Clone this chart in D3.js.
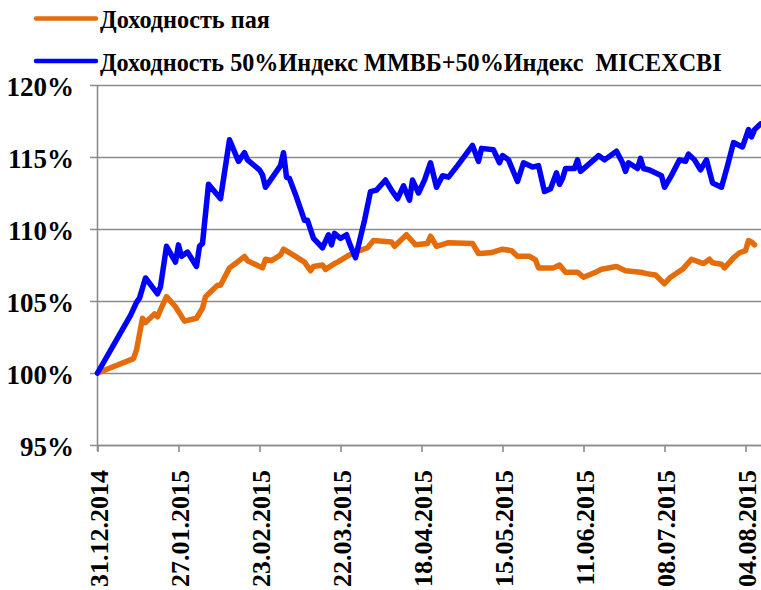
<!DOCTYPE html>
<html>
<head>
<meta charset="utf-8">
<script src="https://cdn.jsdelivr.net/npm/d3@7"></script>
<style>
  body { margin: 0; background: #fff; }
  text { font-family: "Liberation Serif", "Times New Roman", serif; font-weight: bold; fill: #000; }
</style>
</head>
<body>
<script>
// series names
const seriesNames = ["Доходность пая", "Доходность 50%Индекс ММВБ+50%Индекс  MICEXCBI"];

// orange: fund share return, %
const fundDates = ["2014-12-31","2015-01-12","2015-01-13","2015-01-15","2015-01-16","2015-01-19","2015-01-20","2015-01-21","2015-01-23","2015-01-26","2015-01-29","2015-02-02","2015-02-04","2015-02-05","2015-02-09","2015-02-10","2015-02-13","2015-02-15","2015-02-18","2015-02-19","2015-02-24","2015-02-25","2015-02-27","2015-03-02","2015-03-03","2015-03-07","2015-03-10","2015-03-12","2015-03-13","2015-03-16","2015-03-17","2015-03-20","2015-03-21","2015-03-25","2015-03-27","2015-03-31","2015-04-02","2015-04-08","2015-04-09","2015-04-13","2015-04-16","2015-04-20","2015-04-21","2015-04-23","2015-04-27","2015-05-05","2015-05-07","2015-05-11","2015-05-15","2015-05-18","2015-05-20","2015-05-24","2015-05-26","2015-05-27","2015-06-01","2015-06-03","2015-06-05","2015-06-09","2015-06-11","2015-06-15","2015-06-17","2015-06-22","2015-06-25","2015-06-30","2015-07-02","2015-07-05","2015-07-08","2015-07-10","2015-07-14","2015-07-17","2015-07-21","2015-07-23","2015-07-24","2015-07-27","2015-07-28","2015-07-31","2015-08-02","2015-08-04","2015-08-05","2015-08-06","2015-08-07"];
const fundValues = [100.0,101.0,101.6,103.8,103.5,104.1,103.9,104.4,105.3,104.6,103.6,103.8,104.5,105.3,106.1,106.1,107.3,107.6,108.1,107.8,107.3,107.9,107.8,108.2,108.6,108.1,107.7,107.1,107.4,107.5,107.2,107.6,107.7,108.2,108.4,108.7,109.2,109.1,108.8,109.6,108.9,109.0,109.5,108.8,109.05,109.0,108.3,108.35,108.6,108.5,108.1,108.1,107.85,107.3,107.3,107.5,107.0,107.0,106.65,107.0,107.2,107.4,107.1,107.0,106.9,106.8,106.2,106.65,107.2,107.9,107.6,107.9,107.65,107.55,107.3,108.0,108.35,108.5,109.2,109.1,108.9];

// blue: 50% MICEX index + 50% MICEXCBI, %
const indexDates = ["2014-12-31","2015-01-11","2015-01-13","2015-01-14","2015-01-16","2015-01-20","2015-01-21","2015-01-23","2015-01-26","2015-01-27","2015-01-28","2015-01-30","2015-02-02","2015-02-03","2015-02-04","2015-02-06","2015-02-10","2015-02-13","2015-02-16","2015-02-18","2015-02-19","2015-02-23","2015-02-24","2015-02-25","2015-02-27","2015-03-02","2015-03-03","2015-03-04","2015-03-05","2015-03-07","2015-03-10","2015-03-11","2015-03-13","2015-03-16","2015-03-18","2015-03-19","2015-03-20","2015-03-22","2015-03-24","2015-03-25","2015-03-27","2015-03-30","2015-04-01","2015-04-03","2015-04-06","2015-04-08","2015-04-10","2015-04-12","2015-04-14","2015-04-15","2015-04-17","2015-04-19","2015-04-21","2015-04-23","2015-04-25","2015-04-27","2015-04-30","2015-05-05","2015-05-07","2015-05-08","2015-05-12","2015-05-14","2015-05-15","2015-05-17","2015-05-20","2015-05-22","2015-05-25","2015-05-27","2015-05-29","2015-05-31","2015-06-02","2015-06-03","2015-06-04","2015-06-05","2015-06-08","2015-06-09","2015-06-10","2015-06-15","2015-06-16","2015-06-18","2015-06-22","2015-06-24","2015-06-25","2015-06-26","2015-06-29","2015-06-30","2015-07-01","2015-07-03","2015-07-07","2015-07-08","2015-07-10","2015-07-13","2015-07-15","2015-07-16","2015-07-18","2015-07-20","2015-07-22","2015-07-24","2015-07-27","2015-07-29","2015-07-31","2015-08-03","2015-08-05","2015-08-06","2015-08-07","2015-08-09"];
const indexValues = [100.0,104.0,104.9,105.2,106.6,105.5,106.0,108.8,107.7,108.9,108.1,108.4,107.4,108.8,109.0,113.1,112.1,116.2,114.7,115.3,114.8,114.1,113.75,112.9,113.5,114.4,115.3,113.6,113.5,112.4,110.6,110.6,109.35,108.7,109.6,108.9,109.7,109.35,109.6,109.0,108.0,110.6,112.6,112.7,113.4,112.7,112.1,113.0,112.0,113.4,112.5,113.4,114.6,112.9,113.7,113.6,114.4,115.8,114.7,115.6,115.5,114.6,115.1,114.8,113.3,114.6,114.3,114.4,112.6,112.8,113.9,113.1,113.5,114.2,114.2,114.8,114.0,114.9,115.1,114.8,115.4,114.6,114.0,114.6,114.2,114.9,114.2,114.1,113.7,112.9,113.6,114.8,114.7,115.2,114.8,114.1,114.8,113.2,112.9,114.4,116.0,115.7,116.9,116.4,116.9,117.3];

// axis labels
const xTickLabels = ["31.12.2014","27.01.2015","23.02.2015","22.03.2015","18.04.2015","15.05.2015","11.06.2015","08.07.2015","04.08.2015"];
const yTickValues = [95, 100, 105, 110, 115, 120];

const width = 761, height = 590;
const plot = { left: 97.5, right: 763.5, top: 85, bottom: 445 };

const parseIso = d3.utcParse("%Y-%m-%d");
const parseTick = d3.utcParse("%d.%m.%Y");

const xScale = d3.scaleUtc()
    .domain([parseIso("2014-12-31"), parseIso("2015-08-10")])
    .range([plot.left, plot.right]);
const yScale = d3.scaleLinear().domain([95, 120]).range([plot.bottom, plot.top]);

const svg = d3.select("body").append("svg")
    .attr("width", width)
    .attr("height", height);

// gridlines + y ticks
const yAxis = d3.axisLeft(yScale)
    .tickValues(yTickValues)
    .tickSize(-(plot.right - plot.left + 8))
    .tickSizeOuter(0)
    .tickFormat(d => d + "%");

const gy = svg.append("g")
    .attr("transform", `translate(${plot.left - 7.5},0)`)
    .call(yAxis);
gy.select(".domain").remove();
gy.selectAll(".tick line").attr("stroke", "#8c8c8c").attr("stroke-width", 1.6);
gy.selectAll(".tick text")
    .attr("x", -16)
    .attr("dy", 10)
    .style("font-size", "27px")
    .attr("fill", "#000");

// vertical axis line
svg.append("line")
    .attr("x1", plot.left).attr("x2", plot.left)
    .attr("y1", plot.top).attr("y2", plot.bottom + 6)
    .attr("stroke", "#8c8c8c").attr("stroke-width", 1.6);

// x axis
const xAxis = d3.axisBottom(xScale)
    .tickValues(xTickLabels.map(parseTick))
    .tickSize(7)
    .tickSizeOuter(0)
    .tickFormat(d3.utcFormat("%d.%m.%Y"));

const gx = svg.append("g")
    .attr("transform", `translate(0,${plot.bottom})`)
    .call(xAxis);
gx.select(".domain").attr("stroke", "#8c8c8c").attr("stroke-width", 1.6);
gx.selectAll(".tick line").attr("stroke", "#8c8c8c").attr("stroke-width", 1.6);
gx.selectAll(".tick text")
    .attr("y", 0).attr("dy", 0)
    .attr("transform", "translate(9.5,25) rotate(-90)")
    .attr("text-anchor", "end")
    .style("font-size", "26px")
    .attr("fill", "#000");

// lines
const line = d3.line()
    .x(d => xScale(d.date))
    .y(d => yScale(d.value));

const fundData = fundDates.map((d, i) => ({ date: parseIso(d), value: fundValues[i] }));
const indexData = indexDates.map((d, i) => ({ date: parseIso(d), value: indexValues[i] }));

const colors = ["#e46c0a", "#0000ff"];

svg.append("path")
    .datum(fundData)
    .attr("fill", "none")
    .attr("stroke", colors[0])
    .attr("stroke-width", 5.5)
    .attr("stroke-linejoin", "round")
    .attr("stroke-linecap", "round")
    .attr("d", line);

svg.append("path")
    .datum(indexData)
    .attr("fill", "none")
    .attr("stroke", colors[1])
    .attr("stroke-width", 5.5)
    .attr("stroke-linejoin", "round")
    .attr("stroke-linecap", "round")
    .attr("d", line);

// legend: bold serif, fitted to the reference width (slightly condensed)
const legend = svg.append("g");
const legendRows = [
    { y: 18.5, base: 28, len: 170 },
    { y: 61, base: 71, len: 622 }
];
legendRows.forEach((r, i) => {
    legend.append("line")
        .attr("x1", 36).attr("x2", 96)
        .attr("y1", r.y).attr("y2", r.y)
        .attr("stroke", colors[i]).attr("stroke-width", 4.5)
        .attr("stroke-linecap", "round");
    const t = legend.append("text")
        .attr("x", 0).attr("y", 0)
        .style("font-size", "26px")
        .style("white-space", "pre")
        .text(seriesNames[i]);
    const natural = t.node().getComputedTextLength();
    t.attr("transform", `translate(100,${r.base}) scale(${r.len / natural},1)`);
});
</script>
</body>
</html>
